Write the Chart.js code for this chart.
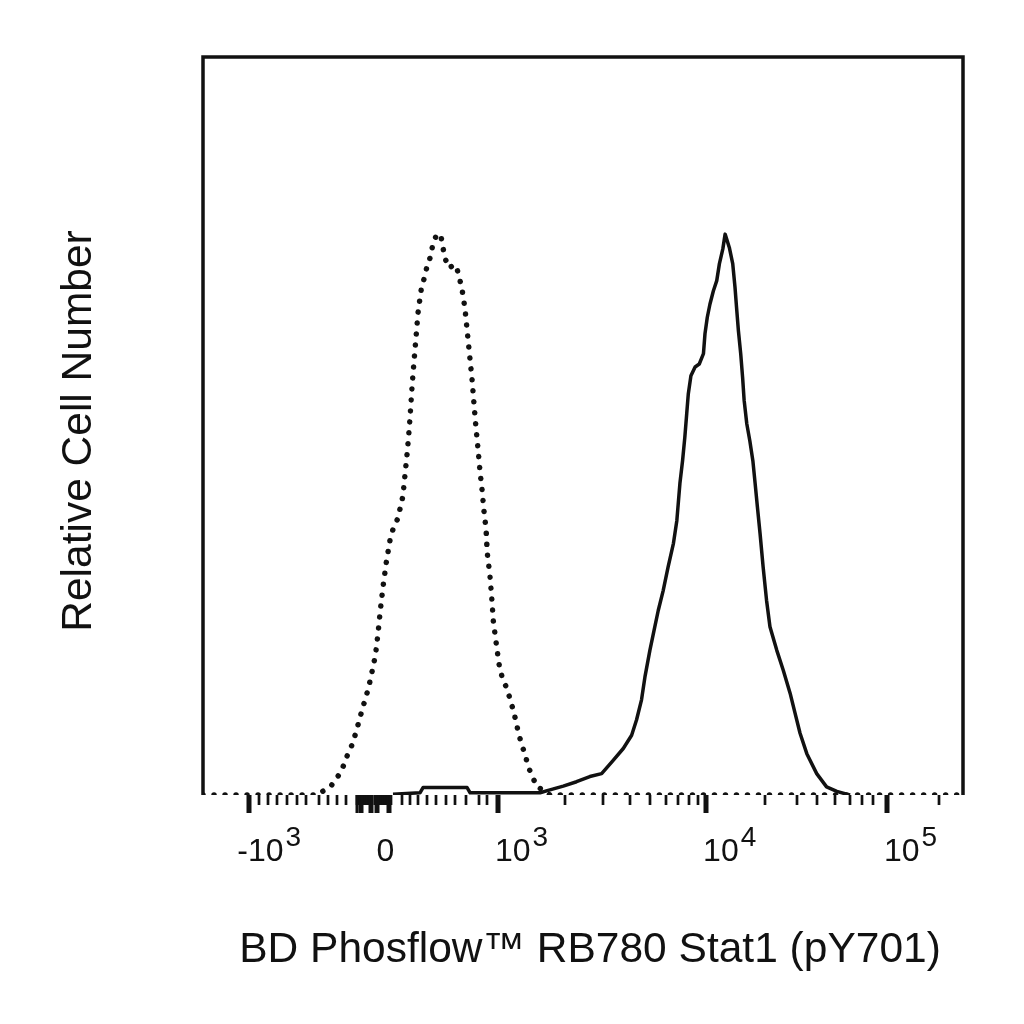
<!DOCTYPE html>
<html>
<head>
<meta charset="utf-8">
<script src="https://cdn.jsdelivr.net/npm/chart.js@4.4.1/dist/chart.umd.min.js"></script>
<style>html,body{margin:0;background:#fff}</style>
</head>
<body>
<canvas id="chart" width="1024" height="1024"></canvas>
<script>
// ===== 資料：x 為顯示通道 (0–1000, biexponential 顯示)，y 為相對細胞數 (%) =====
const isotypeX = [0, 151, 157.5, 169, 178, 185, 190, 196.5, 201, 205, 209, 213.5, 217.5, 221, 224, 227, 230.5, 233.5, 237, 241, 246, 250, 256, 260, 263, 266, 269, 271.5, 273.5, 275.5, 278, 280.5, 283, 285, 287, 291, 294.5, 299.5, 302, 307.5, 313, 315.5, 318.5, 324, 328, 333, 337, 340.5, 343, 345, 348, 351, 354, 356.5, 359, 362, 364.5, 368, 369, 372.5, 374, 377.5, 380, 382, 384, 386, 388, 390, 394, 400, 404, 408.5, 412, 415, 419.5, 424, 428, 434, 439, 447.5, 456.5, 1000];
const isotypeY = [0, 0, 0.5, 1.3, 2.6, 4.0, 5.4, 6.9, 8.4, 9.9, 11.4, 13.0, 14.4, 16.0, 17.5, 19.0, 22.1, 25.2, 28.3, 31.4, 34.5, 36.0, 37.4, 39.1, 40.5, 43.6, 46.7, 49.8, 52.9, 56.0, 59.2, 62.3, 65.4, 66.9, 68.4, 70.0, 71.5, 73.0, 74.4, 76.0, 75.8, 74.3, 72.7, 71.4, 71.7, 71.8, 70.2, 68.7, 67.1, 65.6, 62.5, 59.4, 56.3, 53.1, 50.0, 46.8, 43.8, 40.6, 39.1, 36.0, 32.8, 29.8, 26.6, 23.6, 22.0, 20.4, 18.9, 17.4, 15.8, 14.4, 13.0, 11.4, 9.9, 8.4, 6.8, 5.4, 3.8, 2.4, 1.1, 0.7, 0, 0];

const stat1X = [250, 285.5, 289.5, 347.5, 351.5, 443.5, 456.5, 474, 491.5, 509, 524.5, 538, 553, 564, 570.5, 577, 581.5, 588, 593.5, 599, 605.5, 612, 619, 623.5, 627.5, 631, 634, 636.5, 638.5, 642, 647.5, 653, 658.5, 660.5, 663.5, 667, 671.5, 676, 679.5, 684, 687, 692.5, 697, 700, 702, 704.5, 707.5, 710, 712, 715.5, 719.5, 723.5, 726.5, 729.5, 733, 737, 741.5, 746, 755, 763.5, 772.5, 779, 785.5, 794.5, 807.5, 820.5, 834, 847, 851.5];
const stat1Y = [0.1, 0.3, 1.0, 1.0, 0.3, 0.3, 0.7, 1.2, 1.8, 2.5, 2.9, 4.5, 6.3, 8.1, 10.2, 12.9, 16.0, 19.6, 22.3, 25.0, 27.7, 30.9, 34.1, 37.2, 42.2, 45.3, 48.5, 51.7, 54.3, 56.8, 58.0, 58.4, 59.8, 62.5, 64.7, 66.5, 68.3, 69.7, 72.0, 74.0, 76.0, 74.2, 72.0, 68.8, 66.1, 62.9, 59.8, 56.6, 53.5, 50.3, 48.0, 45.3, 42.2, 39.0, 35.4, 30.9, 26.4, 22.8, 19.6, 16.9, 13.8, 11.1, 8.4, 5.6, 2.9, 1.1, 0.5, 0.1, 0];

// ===== 刻度（通道位置）=====
const majorTicks  = [60.5, 229.5, 388, 662, 900];
const majorBase   = ['-10', '0', '10', '10', '10'];
const majorExp    = ['3', '', '3', '4', '5'];
const minorTicks  = [73.7, 85.5, 97.4, 110.5, 123.7, 135.5, 152.6, 164.5, 176.3, 188.2,
  203, 205.5, 208, 210.5, 213, 215.5, 218, 220.5, 223, 226, 232, 234.5, 237, 239.5, 242, 244.5, 247,
  261.8, 272.4, 282.9, 294.7, 306.6, 319.7, 331.6, 346.1, 363.2, 373.7,
  476.3, 526.3, 561.8, 588.2, 609.2, 625, 639.5, 651.3,
  739.5, 781.6, 807.9, 831.6, 851.3, 867.1, 881.6, 968.4];
const zeroLongTicks = [203, 206.5, 209.5, 220, 222.5, 243, 246];

const xTitle = 'BD Phosflow™ RB780 Stat1 (pY701)';
const yTitle = 'Relative Cell Number';

const FONT = '"Liberation Sans", Arial, sans-serif';
const INK  = '#111';

const toPoints = (xs, ys) => xs.map((x, i) => ({ x, y: ys[i] }));

// ===== 外框、刻度、文字 =====
const axisDeco = {
  id: 'axisDeco',
  afterDatasetsDraw(chart) {
    const { ctx, chartArea: a, scales: { x } } = chart;
    ctx.save();
    ctx.strokeStyle = INK;
    ctx.lineCap = 'butt';

    // 外框（底邊由直方圖基線構成）
    ctx.lineWidth = 3.5;
    ctx.beginPath();
    ctx.moveTo(a.left, a.bottom);
    ctx.lineTo(a.left, a.top);
    ctx.lineTo(a.right, a.top);
    ctx.lineTo(a.right, a.bottom);
    ctx.stroke();

    const tick = (v, len, w) => {
      const px = Math.round(x.getPixelForValue(v));
      ctx.lineWidth = w;
      ctx.beginPath();
      ctx.moveTo(px, a.bottom);
      ctx.lineTo(px, a.bottom + len);
      ctx.stroke();
    };
    minorTicks.forEach(v => tick(v, 10, 2.7));
    zeroLongTicks.forEach(v => tick(v, 18, 3));
    majorTicks.forEach(v => tick(v, 18, 5));

    // 刻度標籤：10 + 上標指數
    ctx.fillStyle = INK;
    ctx.textBaseline = 'alphabetic';
    majorTicks.forEach((v, i) => {
      const px = x.getPixelForValue(v);
      const base = majorBase[i];
      ctx.font = `32px ${FONT}`;
      if (!majorExp[i]) {
        ctx.textAlign = 'center';
        ctx.fillText(base, px + 8, 861);
        return;
      }
      ctx.textAlign = 'left';
      let start = px - 3;
      if (base.startsWith('-')) start -= ctx.measureText('-').width - 2;
      ctx.fillText(base, start, 861);
      const end = start + ctx.measureText(base).width;
      ctx.font = `28px ${FONT}`;
      ctx.fillText(majorExp[i], end + 2, 846);
    });

    // 軸標題
    ctx.font = `42.5px ${FONT}`;
    ctx.textAlign = 'center';
    ctx.fillText(xTitle, 590, 962);

    ctx.translate(91, 431);
    ctx.rotate(-Math.PI / 2);
    ctx.fillText(yTitle, 0, 0);
    ctx.restore();
  }
};

new Chart(document.getElementById('chart'), {
  type: 'line',
  data: {
    datasets: [
      {
        label: 'Stat1 (pY701)',
        data: toPoints(stat1X, stat1Y),
        borderColor: INK,
        borderWidth: 3.5,
        borderJoinStyle: 'round',
        pointRadius: 0,
        tension: 0,
        fill: false
      },
      {
        label: 'Isotype control',
        data: toPoints(isotypeX, isotypeY),
        borderColor: INK,
        borderWidth: 5.5,
        borderDash: [0.01, 11],
        borderCapStyle: 'round',
        pointRadius: 0,
        tension: 0,
        fill: false
      }
    ]
  },
  options: {
    responsive: false,
    devicePixelRatio: 1,
    animation: false,
    layout: { padding: { left: 203, right: 61, top: 57, bottom: 229 } },
    scales: {
      x: { type: 'linear', min: 0, max: 1000, display: false },
      y: { min: 0, max: 100, display: false }
    },
    plugins: { legend: { display: false }, tooltip: { enabled: false } }
  },
  plugins: [axisDeco]
});
</script>
</body>
</html>
